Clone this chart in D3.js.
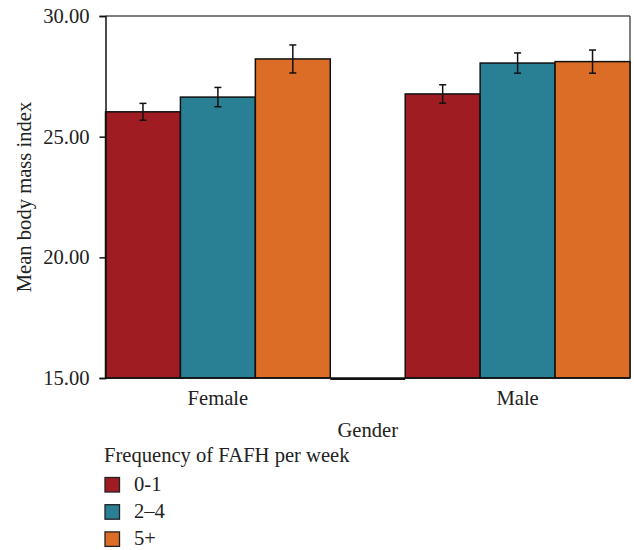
<!DOCTYPE html>
<html>
<head>
<meta charset="utf-8">
<script src="https://cdn.jsdelivr.net/npm/d3@7"></script>
<style>
  body { margin: 0; background: #fff; }
  text { font-family: "Liberation Serif", "Times New Roman", serif; fill: #222; }
</style>
</head>
<body>
<script>
// data
const genders = ["Female", "Male"];
const freqs = ["0-1", "2–4", "5+"];
const femaleMeans = [26.03, 26.64, 28.22];
const maleMeans = [26.77, 28.05, 28.11];
const femaleErr = [0.35, 0.40, 0.58];
const maleErr = [0.38, 0.42, 0.48];
const yTicks = [15, 20, 25, 30];
const colors = ["#a01c23", "#298095", "#db6d26"];

const width = 634, height = 550;
const plotLeft = 105.5, plotRight = 630, plotTop = 16, plotBottom = 378;
const fs = 20.6;

const rows = [];
genders.forEach((g, gi) => {
  const m = gi === 0 ? femaleMeans : maleMeans;
  const e = gi === 0 ? femaleErr : maleErr;
  freqs.forEach((f, fi) => rows.push({gender: g, freq: f, mean: m[fi], err: e[fi]}));
});

const svg = d3.select("body").append("svg")
  .attr("width", width).attr("height", height);

const x0 = d3.scaleBand().domain(genders).range([plotLeft, plotRight]).paddingInner(0.25).paddingOuter(0);
const x1 = d3.scaleBand().domain(freqs).range([0, x0.bandwidth()]);
const y = d3.scaleLinear().domain([15, 30]).range([plotBottom, plotTop]);
const color = d3.scaleOrdinal().domain(freqs).range(colors);

// frame: top and right border
svg.append("line").attr("x1", plotLeft).attr("x2", plotRight).attr("y1", plotTop).attr("y2", plotTop)
  .attr("stroke", "#555").attr("stroke-width", 1.5);
svg.append("line").attr("x1", plotRight).attr("x2", plotRight).attr("y1", plotTop).attr("y2", plotBottom)
  .attr("stroke", "#555").attr("stroke-width", 1.5);

// bars
svg.append("g").selectAll("rect")
  .data(rows).enter().append("rect")
  .attr("x", d => x0(d.gender) + x1(d.freq))
  .attr("y", d => y(d.mean))
  .attr("width", x1.bandwidth())
  .attr("height", d => y(15) - y(d.mean))
  .attr("fill", d => color(d.freq))
  .attr("stroke", "#111")
  .attr("stroke-width", 1.5);

// empty gap base line between groups
svg.append("line")
  .attr("x1", x0("Female") + x0.bandwidth()).attr("x2", x0("Male"))
  .attr("y1", plotBottom + 1).attr("y2", plotBottom + 1)
  .attr("stroke", "#111").attr("stroke-width", 1.8);

// error bars
const eb = svg.append("g").attr("stroke", "#111").attr("stroke-width", 1.5);
rows.forEach(d => {
  const cx = x0(d.gender) + x1(d.freq) + x1.bandwidth() / 2;
  eb.append("line").attr("x1", cx).attr("x2", cx)
    .attr("y1", y(d.mean + d.err)).attr("y2", y(d.mean - d.err));
  [d.mean + d.err, d.mean - d.err].forEach(v => {
    eb.append("line").attr("x1", cx - 3.5).attr("x2", cx + 3.5)
      .attr("y1", y(v)).attr("y2", y(v));
  });
});

// y axis
const yAxis = svg.append("g").attr("transform", `translate(${plotLeft},0)`)
  .call(d3.axisLeft(y).tickValues(yTicks).tickFormat(d3.format(".2f")).tickSize(6).tickPadding(10));
yAxis.select(".domain").attr("stroke", "#111").attr("stroke-width", 1.5);
yAxis.selectAll(".tick line").attr("stroke", "#111").attr("stroke-width", 1.5);
yAxis.selectAll(".tick text").attr("font-size", fs).attr("fill", "#222")
  .attr("font-family", "Liberation Serif, serif");

// x axis base line
svg.append("line").attr("x1", plotLeft).attr("x2", plotRight).attr("y1", plotBottom).attr("y2", plotBottom)
  .attr("stroke", "#111").attr("stroke-width", 1.5);

// x labels
svg.append("g").selectAll("text").data(genders).enter().append("text")
  .attr("x", d => x0(d) + x0.bandwidth() / 2)
  .attr("y", 405)
  .attr("text-anchor", "middle")
  .attr("font-size", fs)
  .text(d => d);

svg.append("text").attr("x", (plotLeft + plotRight) / 2).attr("y", 437)
  .attr("text-anchor", "middle").attr("font-size", fs).text("Gender");

svg.append("text")
  .attr("transform", `translate(31,${(plotTop + plotBottom) / 2}) rotate(-90)`)
  .attr("text-anchor", "middle").attr("font-size", fs)
  .text("Mean body mass index");

// legend
svg.append("text").attr("x", 104).attr("y", 462).attr("font-size", fs)
  .text("Frequency of FAFH per week");
const lg = svg.append("g").selectAll("g").data(freqs).enter().append("g")
  .attr("transform", (d, i) => `translate(105,${477.5 + i * 27.2})`);
lg.append("rect").attr("width", 14.5).attr("height", 14.5)
  .attr("fill", d => color(d)).attr("stroke", "#222").attr("stroke-width", 1.3);
lg.append("text").attr("x", 29).attr("y", 13.5).attr("font-size", fs).text(d => d);
</script>
</body>
</html>
